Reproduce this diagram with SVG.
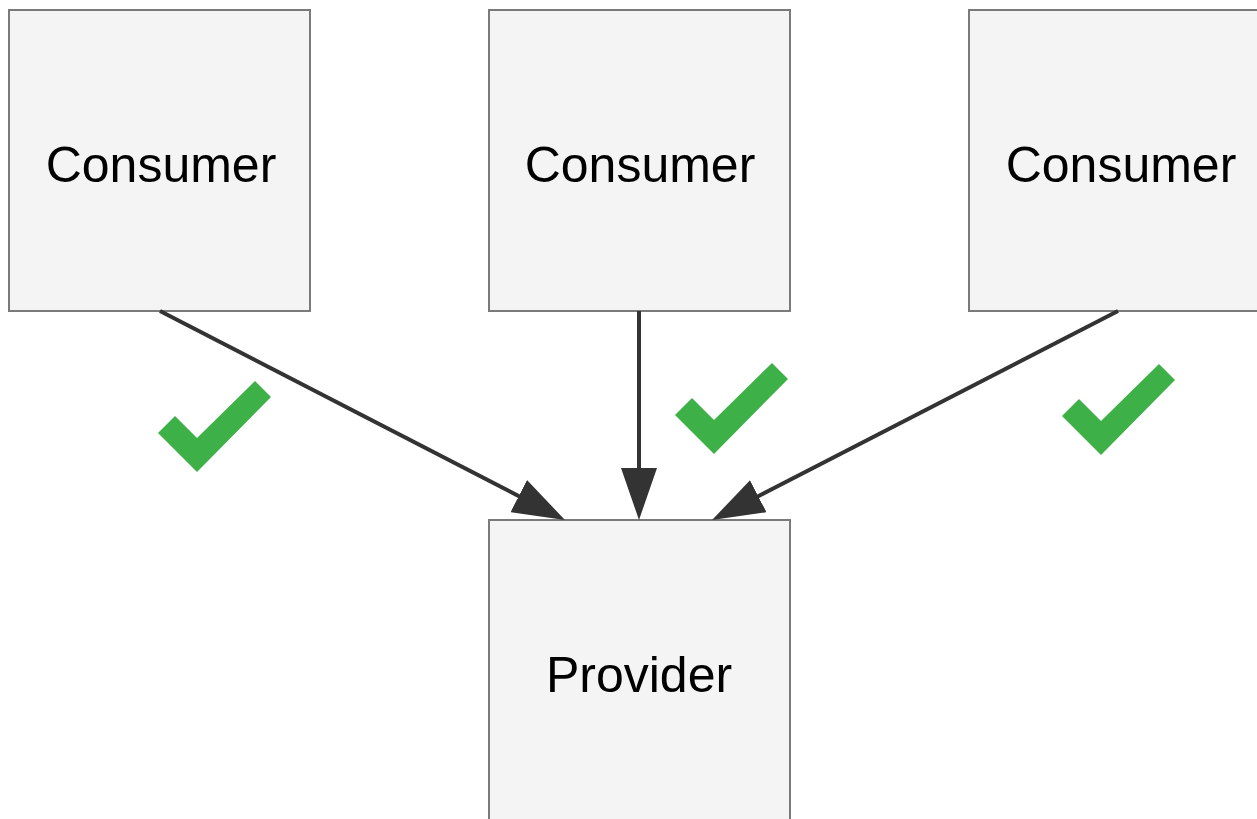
<svg xmlns="http://www.w3.org/2000/svg" width="1257" height="819" viewBox="0 0 1257 819">
<style>
.box{fill:#f4f4f4;stroke:#7a7a7a;stroke-width:2}
.lbl{font-family:"Liberation Sans",Arial,sans-serif;font-size:50px;fill:#000;text-anchor:middle}
.edge{fill:none;stroke:#333;stroke-width:4}
.check{fill:#3db147}
</style>
<defs>
<marker id="arr" viewBox="0 0 52 36" refX="22" refY="18" markerWidth="52" markerHeight="36" markerUnits="userSpaceOnUse" orient="auto">
<path d="M0,0 L52,18 L0,36 z" fill="#333"/>
</marker>
</defs>
<rect width="1257" height="819" fill="#fff"/>
<g id="consumer1"><rect class="box" x="9" y="10" width="301" height="301"/><text class="lbl" x="161" y="182">Consumer</text></g>
<g id="consumer2"><rect class="box" x="489" y="10" width="301" height="301"/><text class="lbl" x="640" y="182">Consumer</text></g>
<g id="consumer3"><rect class="box" x="969" y="10" width="301" height="301"/><text class="lbl" x="1121" y="182">Consumer</text></g>
<g id="provider"><rect class="box" x="489" y="520" width="301" height="320"/><text class="lbl" x="639" y="692">Provider</text></g>
<g id="connectors">
<path class="edge" d="M160,311 L538.3,506.2" marker-end="url(#arr)"/>
<path class="edge" d="M639,311 L639,490" marker-end="url(#arr)"/>
<path class="edge" d="M1118,311 L738.7,506.3" marker-end="url(#arr)"/>
</g>
<g id="checks">
<polygon class="check" points="158,433 175,416 197,438 255,381 271,397 197,472"/>
<polygon class="check" points="675,415 692,398 714,420 772,363 788,379 714,454"/>
<polygon class="check" points="1062,416 1079,399 1101,421 1159,364 1175,380 1101,455"/>
</g>
</svg>
